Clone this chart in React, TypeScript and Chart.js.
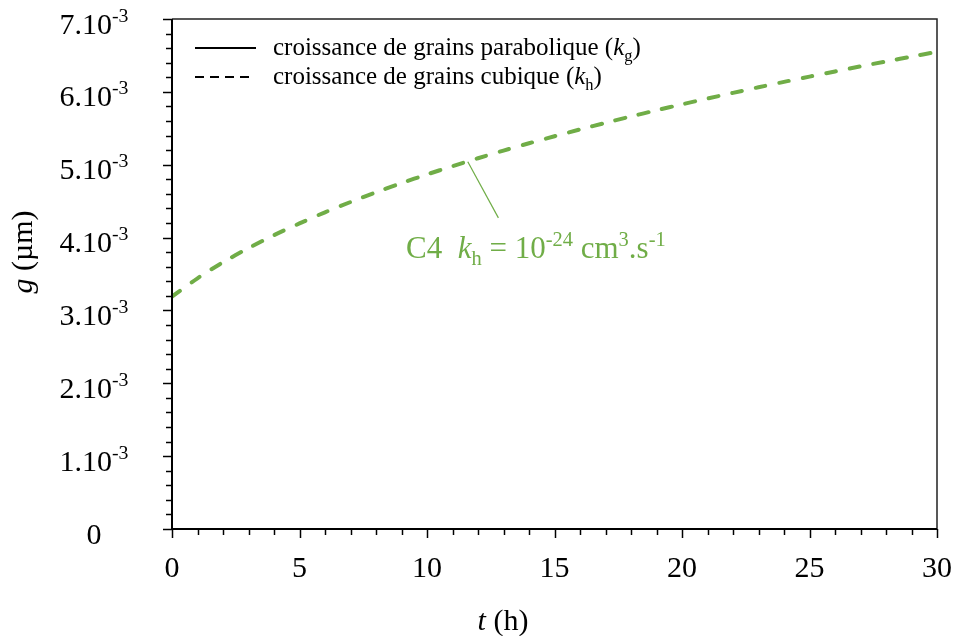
import React, { useEffect, useRef } from "react";
import { Chart, registerables } from "chart.js";

Chart.register(...registerables);

// ---- data ----
const timeHours: number[] = [0, 1, 2, 3, 4, 5, 6, 7, 8, 9, 10, 11, 12, 13, 14, 15, 16, 17, 18, 19, 20, 21, 22, 23, 24, 25, 26, 27, 28, 29, 30];
const grainSizeCubic: number[] = [
  0.00319, 0.003441, 0.003661, 0.003855, 0.004033, 0.004194, 0.004347, 0.004488, 0.004621, 0.004747,
  0.004867, 0.00498, 0.005089, 0.005194, 0.005294, 0.005391, 0.005484, 0.005575, 0.005663, 0.005747,
  0.005829, 0.005908, 0.005986, 0.006063, 0.006137, 0.006209, 0.00628, 0.00635, 0.006417, 0.006484, 0.006549,
];
const xMajorTicks: number[] = [0, 5, 10, 15, 20, 25, 30];
const yMajorTicks: number[] = [0, 0.001, 0.002, 0.003, 0.004, 0.005, 0.006, 0.007];
const yTickMantissa: string[] = ["0", "1.10", "2.10", "3.10", "4.10", "5.10", "6.10", "7.10"];
const yTickExponent: string[] = ["", "-3", "-3", "-3", "-3", "-3", "-3", "-3"];
const legendLabels: string[] = ["croissance de grains parabolique (", "croissance de grains cubique ("];
const legendSubs: string[] = ["g", "h"];

const GREEN = "#70ad47";
const FONT = "'Liberation Serif', 'Times New Roman', serif";

type Part = { t: string; s?: "n" | "i" | "sup" | "sub" };

function drawRich(ctx: CanvasRenderingContext2D, parts: Part[], x: number, y: number, size: number, color: string) {
  ctx.save();
  ctx.fillStyle = color;
  ctx.textBaseline = "alphabetic";
  ctx.textAlign = "left";
  let cx = x;
  for (const p of parts) {
    const s = p.s || "n";
    let fs = size;
    let dy = 0;
    let italic = false;
    if (s === "i") italic = true;
    if (s === "sup") { fs = size * 0.66; dy = -size * 0.4; }
    if (s === "sub") { fs = size * 0.66; dy = size * 0.22; }
    ctx.font = `${italic ? "italic " : ""}${fs}px ${FONT}`;
    ctx.fillText(p.t, cx, y + dy);
    cx += ctx.measureText(p.t).width;
  }
  ctx.restore();
  return cx - x;
}

function measureRich(ctx: CanvasRenderingContext2D, parts: Part[], size: number) {
  ctx.save();
  let w = 0;
  for (const p of parts) {
    const s = p.s || "n";
    let fs = size;
    if (s === "sup" || s === "sub") fs = size * 0.66;
    ctx.font = `${s === "i" ? "italic " : ""}${fs}px ${FONT}`;
    w += ctx.measureText(p.t).width;
  }
  ctx.restore();
  return w;
}

const decorPlugin = {
  id: "decor",
  afterDraw(chart: any) {
    const ctx: CanvasRenderingContext2D = chart.ctx;
    const xs = chart.scales.x;
    const ys = chart.scales.y;
    const { left, right, top, bottom } = chart.chartArea;
    ctx.save();

    // frame
    ctx.strokeStyle = "#222";
    ctx.lineWidth = 1.5;
    ctx.beginPath();
    ctx.moveTo(left, top);
    ctx.lineTo(right, top);
    ctx.lineTo(right, bottom);
    ctx.stroke();

    // axes
    ctx.strokeStyle = "#000";
    ctx.lineWidth = 2;
    ctx.beginPath();
    ctx.moveTo(left, top);
    ctx.lineTo(left, bottom);
    ctx.lineTo(right, bottom);
    ctx.stroke();

    // y ticks
    ctx.lineWidth = 1.5;
    const yMax = yMajorTicks[yMajorTicks.length - 1];
    for (let i = 0; i <= Math.round(yMax / 0.0002); i++) {
      const v = i * 0.0002;
      const py = Math.round(ys.getPixelForValue(v)) + 0.5;
      const major = i % 5 === 0;
      ctx.beginPath();
      ctx.moveTo(left - (major ? 9 : 6), py);
      ctx.lineTo(left, py);
      ctx.stroke();
    }
    // x ticks
    for (let t = 0; t <= 30; t++) {
      const px = Math.round(xs.getPixelForValue(t)) + 0.5;
      const major = t % 5 === 0;
      ctx.beginPath();
      ctx.moveTo(px, bottom);
      ctx.lineTo(px, bottom + (major ? 9 : 6));
      ctx.stroke();
    }

    // y labels
    yMajorTicks.forEach((v, i) => {
      const py = ys.getPixelForValue(v);
      const parts: Part[] = [{ t: yTickMantissa[i] }];
      if (yTickExponent[i]) parts.push({ t: yTickExponent[i], s: "sup" });
      const w = measureRich(ctx, parts, 30);
      drawRich(ctx, parts, 94 - w / 2, py + 14.5, 30, "#000");
    });
    // x labels
    ctx.font = `30px ${FONT}`;
    ctx.fillStyle = "#000";
    ctx.textAlign = "center";
    ctx.textBaseline = "alphabetic";
    xMajorTicks.forEach((t) => {
      ctx.fillText(String(t), xs.getPixelForValue(t), bottom + 48);
    });

    // x title
    const xt: Part[] = [{ t: "t", s: "i" }, { t: " (h)" }];
    const xtw = measureRich(ctx, xt, 30);
    drawRich(ctx, xt, 503 - xtw / 2, 630, 30, "#000");

    // y title
    ctx.save();
    ctx.translate(32, 252);
    ctx.rotate(-Math.PI / 2);
    const yt: Part[] = [{ t: "g", s: "i" }, { t: " (µm)" }];
    const ytw = measureRich(ctx, yt, 30);
    drawRich(ctx, yt, -ytw / 2, 0, 30, "#000");
    ctx.restore();

    // legend
    const lx0 = left + 23;
    const lx1 = left + 84;
    const rows = [48, 77];
    ctx.strokeStyle = "#000";
    ctx.lineWidth = 2;
    ctx.beginPath();
    ctx.moveTo(lx0, rows[0]);
    ctx.lineTo(lx1, rows[0]);
    ctx.stroke();
    ctx.setLineDash([9, 6]);
    ctx.beginPath();
    ctx.moveTo(lx0, rows[1]);
    ctx.lineTo(lx1 - 4, rows[1]);
    ctx.stroke();
    ctx.setLineDash([]);
    legendLabels.forEach((lab, i) => {
      drawRich(
        ctx,
        [{ t: lab }, { t: "k", s: "i" }, { t: legendSubs[i], s: "sub" }, { t: ")" }],
        left + 101,
        rows[i] + 7,
        25,
        "#000"
      );
    });

    // annotation
    const ax0 = xs.getPixelForValue(11.6);
    const ay0 = ys.getPixelForValue(0.00504);
    const ax1 = xs.getPixelForValue(12.8);
    const ay1 = ys.getPixelForValue(0.00427);
    ctx.strokeStyle = GREEN;
    ctx.lineWidth = 1.2;
    ctx.beginPath();
    ctx.moveTo(ax0, ay0);
    ctx.lineTo(ax1, ay1);
    ctx.stroke();
    drawRich(
      ctx,
      [
        { t: "C4  " },
        { t: "k", s: "i" },
        { t: "h", s: "sub" },
        { t: " = 10" },
        { t: "-24", s: "sup" },
        { t: " cm" },
        { t: "3", s: "sup" },
        { t: ".s" },
        { t: "-1", s: "sup" },
      ],
      xs.getPixelForValue(9.18),
      ys.getPixelForValue(0.00372),
      31,
      GREEN
    );

    ctx.restore();
  },
};

export default function App() {
  const ref = useRef<HTMLCanvasElement | null>(null);
  useEffect(() => {
    if (!ref.current) return;
    const chart = new Chart(ref.current, {
      type: "line",
      data: {
        datasets: [
          {
            label: "croissance de grains cubique (kh)",
            data: timeHours.map((t, i) => ({ x: t, y: grainSizeCubic[i] })),
            borderColor: GREEN,
            borderWidth: 4,
            borderDash: [10, 14],
            borderCapStyle: "round",
            pointRadius: 0,
            tension: 0.3,
            fill: false,
          },
        ],
      },
      options: {
        animation: false,
        responsive: true,
        maintainAspectRatio: false,
        layout: { padding: { left: 172, right: 20, top: 19, bottom: 107 } },
        plugins: { legend: { display: false }, tooltip: { enabled: false } },
        scales: {
          x: { type: "linear", min: 0, max: 30, display: false },
          y: { type: "linear", min: 0, max: 0.007, display: false },
        },
      },
      plugins: [decorPlugin],
    } as any);
    return () => chart.destroy();
  }, []);
  return (
    <div style={{ position: "fixed", left: 0, top: 0, width: 957, height: 636, background: "#fff" }}>
      <canvas ref={ref} />
    </div>
  );
}
